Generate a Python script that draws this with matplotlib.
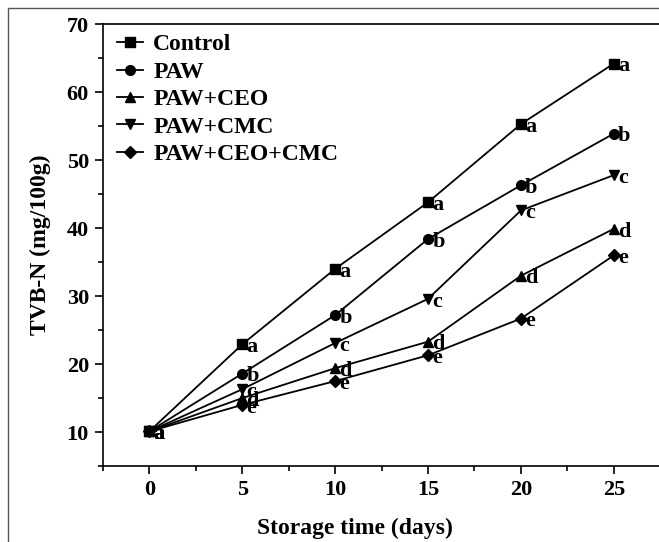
import numpy as np
import matplotlib.pyplot as plt
from matplotlib.patches import Rectangle
from matplotlib.ticker import MultipleLocator

plt.rcParams['font.family'] = ['Liberation Serif', 'DejaVu Serif']
plt.rcParams['font.weight'] = 'bold'

# Storage days and TVB-N values (mg/100g)
days = [0, 5, 10, 15, 20, 25]
control = [10.1, 22.9, 34.0, 43.8, 55.3, 64.2]
paw = [10.1, 18.6, 27.2, 38.4, 46.3, 53.9]
paw_ceo = [10.1, 15.0, 19.4, 23.3, 33.0, 39.9]
paw_cmc = [10.1, 16.3, 23.1, 29.6, 42.6, 47.8]
paw_ceo_cmc = [10.1, 14.0, 17.5, 21.3, 26.7, 36.0]

# significance letters next to each point
letters_control = ['a', 'a', 'a', 'a', 'a', 'a']
letters_paw = ['a', 'b', 'b', 'b', 'b', 'b']
letters_ceo = ['a', 'd', 'd', 'd', 'd', 'd']
letters_cmc = ['a', 'c', 'c', 'c', 'c', 'c']
letters_ceo_cmc = ['a', 'e', 'e', 'e', 'e', 'e']

series = [
    ('Control', control, letters_control, 's', 6.5),
    ('PAW', paw, letters_paw, 'o', 7),
    ('PAW+CEO', paw_ceo, letters_ceo, '^', 7.5),
    ('PAW+CMC', paw_cmc, letters_cmc, 'v', 7.5),
    ('PAW+CEO+CMC', paw_ceo_cmc, letters_ceo_cmc, 'D', 6),
]

fig = plt.figure(figsize=(6.59, 5.42), dpi=100)
ax = fig.add_axes([0.156, 0.140, 0.846, 0.8155])

for name, vals, lets, mk, ms in series:
    ax.plot(days, vals, color='black', linewidth=1.3, marker=mk, markersize=ms, label=name)
    for x, y, t in zip(days, vals, lets):
        ax.annotate(t, (x, y), xytext=(3, -2), textcoords='offset points',
                    ha='left', va='center', fontsize=16, fontweight='bold')

ax.set_xlim(-2.5, 27.5)
ax.set_ylim(5, 70)
ax.xaxis.set_major_locator(MultipleLocator(5))
ax.xaxis.set_minor_locator(MultipleLocator(2.5))
ax.yaxis.set_major_locator(MultipleLocator(10))
ax.yaxis.set_minor_locator(MultipleLocator(5))
ax.set_yticks([10, 20, 30, 40, 50, 60, 70])
ax.tick_params(which='major', direction='out', length=6, width=1.2, labelsize=16, pad=4)
ax.tick_params(which='minor', direction='out', length=3.5, width=1.2)
for lab in ax.get_xticklabels() + ax.get_yticklabels():
    lab.set_fontweight('bold')
for sp in ax.spines.values():
    sp.set_linewidth(1.2)

ax.set_xlabel('Storage time (days)', fontsize=17, fontweight='bold')
ax.set_ylabel('TVB-N (mg/100g)', fontsize=17, fontweight='bold')
ax.xaxis.set_label_coords(0.453, -0.118)
ax.yaxis.set_label_coords(-0.093, 0.5)

ax.legend(loc='upper left', bbox_to_anchor=(0.025, 0.978), frameon=False, numpoints=1,
          handlelength=1.1, handletextpad=0.45, labelspacing=0.25,
          borderpad=0, borderaxespad=0, prop={'weight': 'bold', 'size': 17})

# thin grey frame of the original screenshot
fig.patches.append(Rectangle((0.012, -0.1), 1.2, 1.085, transform=fig.transFigure,
                             fill=False, edgecolor='#555555', linewidth=1.0))

fig.savefig('out.png', dpi=100)
